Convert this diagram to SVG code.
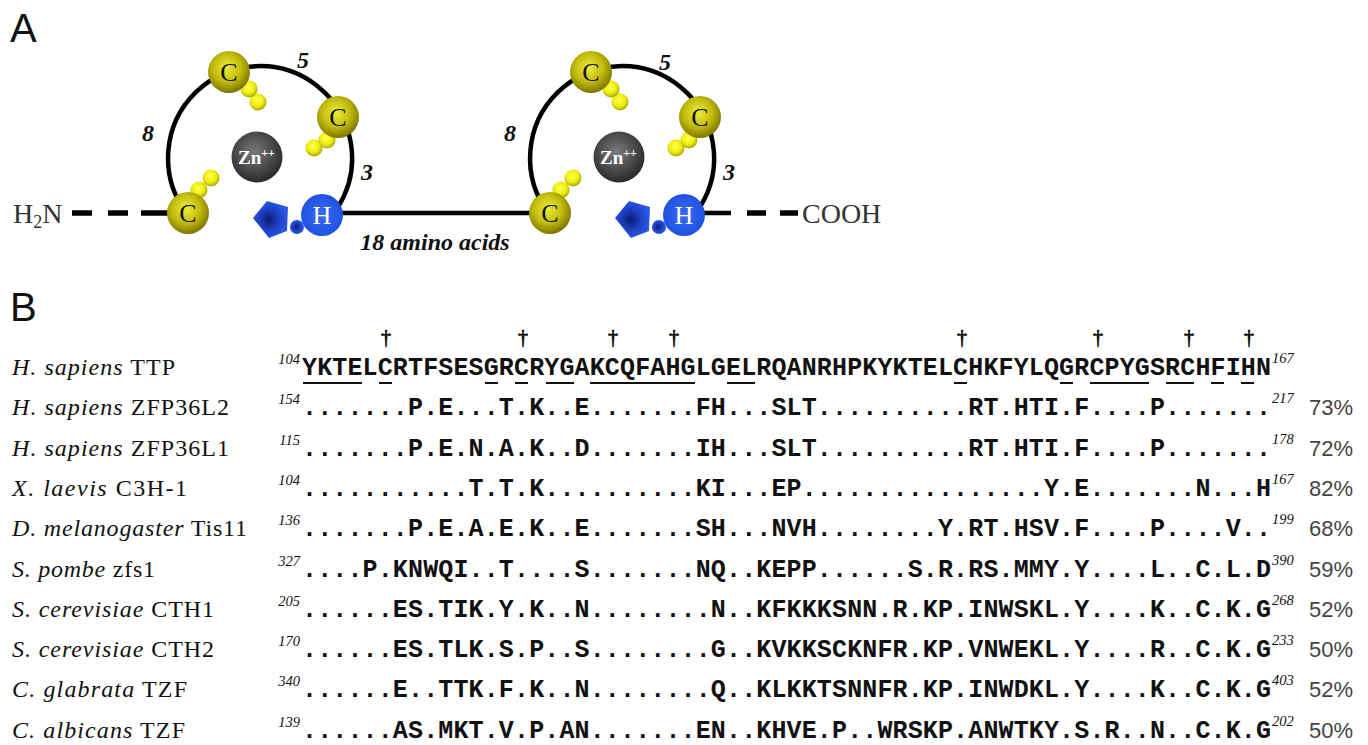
<svg xmlns="http://www.w3.org/2000/svg" width="1368" height="745" viewBox="0 0 1368 745">
  <defs>
    <radialGradient id="gCys" cx="45%" cy="40%" r="60%">
      <stop offset="0" stop-color="#ecec3a"/>
      <stop offset="0.55" stop-color="#c4bd10"/>
      <stop offset="1" stop-color="#7d7600"/>
    </radialGradient>
    <radialGradient id="gSul" cx="45%" cy="40%" r="60%">
      <stop offset="0" stop-color="#ffff55"/>
      <stop offset="0.6" stop-color="#eeee10"/>
      <stop offset="1" stop-color="#a8a400"/>
    </radialGradient>
    <radialGradient id="gZn" cx="45%" cy="40%" r="60%">
      <stop offset="0" stop-color="#7a7a7a"/>
      <stop offset="0.6" stop-color="#4a4a4a"/>
      <stop offset="1" stop-color="#2a2a2a"/>
    </radialGradient>
    <radialGradient id="gHis" cx="50%" cy="50%" r="55%">
      <stop offset="0" stop-color="#3a6af2"/>
      <stop offset="1" stop-color="#1d4fe0"/>
    </radialGradient>
    <radialGradient id="gRing" cx="45%" cy="50%" r="55%">
      <stop offset="0" stop-color="#0c1c70"/>
      <stop offset="0.5" stop-color="#1d3fc0"/>
      <stop offset="1" stop-color="#2b5ae8"/>
    </radialGradient>
    <style>
      .bb { stroke:#000; stroke-width:4.5; fill:none; }
      .dash { stroke:#000; stroke-width:5.5; }
      .cys { fill:url(#gCys); }
      .sul { fill:url(#gSul); }
      .cl { font-family:"Liberation Serif",serif; font-size:26px; text-anchor:middle; fill:#111; }
      .hl { font-family:"Liberation Serif",serif; font-size:26px; text-anchor:middle; fill:#fff; }
      .zn { font-family:"Liberation Serif",serif; font-weight:bold; font-size:19px; fill:#fff; }
      .cnt { font-family:"Liberation Serif",serif; font-weight:bold; font-style:italic; font-size:24px; text-anchor:middle; fill:#111; }
      .term { font-family:"Liberation Serif",serif; font-size:28px; fill:#333; }
      .panel { font-family:"Liberation Sans",sans-serif; font-size:40px; fill:#111; }
      .lab { font-family:"Liberation Serif",serif; font-size:24px; fill:#111; }
      .it { font-style:italic; }
      .seq { font-family:"Liberation Mono",monospace; font-weight:bold; font-size:25px; letter-spacing:0.14px; fill:#111; }
      .num { font-family:"Liberation Serif",serif; font-style:italic; font-size:14.5px; fill:#111; }
      .numL { text-anchor:end; }
      .pct { font-family:"Liberation Sans",sans-serif; font-size:22px; fill:#444; }
      .dag { font-family:"Liberation Serif",serif; font-size:20px; text-anchor:middle; fill:#000; stroke:#000; stroke-width:0.6px; }
      .ul { stroke:#111; stroke-width:2; }
    </style>
  </defs>

  <rect width="1368" height="745" fill="#fff"/>

  <!-- Panel A: tandem CCCH zinc fingers -->
  <text class="panel" x="10" y="42">A</text>

  <g id="connectors">
    <!-- N-terminal dashed tail -->
    <line class="dash" x1="72" y1="213" x2="92" y2="213"/>
    <line class="dash" x1="108" y1="213" x2="128" y2="213"/>
    <line class="dash" x1="141" y1="213" x2="190" y2="213"/>
    <!-- finger 1 loop -->
    <path class="bb" d="M 187 214 A 92 92 0 1 1 338 207"/>
    <!-- 18-residue linker -->
    <line class="bb" x1="322" y1="213" x2="550" y2="213"/>
    <!-- finger 2 loop -->
    <path class="bb" d="M 549 214 A 92 92 0 1 1 700 207"/>
    <!-- C-terminal tail -->
    <line class="bb" x1="684" y1="213" x2="731" y2="213"/>
    <line class="dash" x1="747" y1="213" x2="766" y2="213"/>
    <line class="dash" x1="780" y1="213" x2="798" y2="213"/>
  </g>

  <g id="terminus-n"><text class="term" x="13" y="223">H<tspan font-size="18" dy="5">2</tspan><tspan dy="-5">N</tspan></text></g>
  <g id="terminus-c"><text class="term" x="802" y="223">COOH</text></g>
  <g id="linker-label"><text class="cnt" x="435" y="250" font-size="25">18 amino acids</text></g>

  <!-- finger 1 -->
  <g id="finger1">
    <g id="f1-spacing">
      <text class="cnt" x="148" y="141">8</text>
      <text class="cnt" x="303" y="68">5</text>
      <text class="cnt" x="367" y="180">3</text>
    </g>
    <g id="f1-zn">
      <circle cx="257" cy="157" r="25.5" fill="url(#gZn)"/>
      <text class="zn" x="238" y="164">Zn<tspan font-size="12" dy="-7">++</tspan></text>
    </g>
    <g id="f1-cys1">
      <circle class="sul" cx="211" cy="178" r="8.5"/>
      <circle class="sul" cx="199" cy="190" r="8.5"/>
      <circle class="cys" cx="188" cy="213" r="21"/>
      <text class="cl" x="188" y="222">C</text>
    </g>
    <g id="f1-cys2">
      <circle class="sul" cx="258" cy="102" r="8.5"/>
      <circle class="sul" cx="249" cy="89" r="8.5"/>
      <circle class="cys" cx="229" cy="72" r="21"/>
      <text class="cl" x="229" y="81">C</text>
    </g>
    <g id="f1-cys3">
      <circle class="sul" cx="314" cy="148" r="8.5"/>
      <circle class="sul" cx="327" cy="140" r="8.5"/>
      <circle class="cys" cx="338" cy="117" r="21"/>
      <text class="cl" x="338" y="126">C</text>
    </g>
    <g id="f1-his">
      <polygon points="253,218 267,201 288,207 287,231 269,238" fill="url(#gRing)"/>
      <circle cx="297" cy="227" r="7" fill="url(#gRing)"/>
      <circle cx="322" cy="215" r="21" fill="url(#gHis)"/>
      <text class="hl" x="322" y="224">H</text>
    </g>
  </g>

  <!-- finger 2 -->
  <g id="finger2" transform="translate(362,0)">
    <g id="f2-spacing">
      <text class="cnt" x="148" y="141">8</text>
      <text class="cnt" x="303" y="70">5</text>
      <text class="cnt" x="367" y="180">3</text>
    </g>
    <g id="f2-zn">
      <circle cx="257" cy="157" r="25.5" fill="url(#gZn)"/>
      <text class="zn" x="238" y="164">Zn<tspan font-size="12" dy="-7">++</tspan></text>
    </g>
    <g id="f2-cys1">
      <circle class="sul" cx="211" cy="178" r="8.5"/>
      <circle class="sul" cx="199" cy="190" r="8.5"/>
      <circle class="cys" cx="188" cy="213" r="21"/>
      <text class="cl" x="188" y="222">C</text>
    </g>
    <g id="f2-cys2">
      <circle class="sul" cx="258" cy="102" r="8.5"/>
      <circle class="sul" cx="249" cy="89" r="8.5"/>
      <circle class="cys" cx="229" cy="72" r="21"/>
      <text class="cl" x="229" y="81">C</text>
    </g>
    <g id="f2-cys3">
      <circle class="sul" cx="314" cy="148" r="8.5"/>
      <circle class="sul" cx="327" cy="140" r="8.5"/>
      <circle class="cys" cx="338" cy="117" r="21"/>
      <text class="cl" x="338" y="126">C</text>
    </g>
    <g id="f2-his">
      <polygon points="253,218 267,201 288,207 287,231 269,238" fill="url(#gRing)"/>
      <circle cx="297" cy="227" r="7" fill="url(#gRing)"/>
      <circle cx="322" cy="215" r="21" fill="url(#gHis)"/>
      <text class="hl" x="322" y="224">H</text>
    </g>
  </g>

  <!-- Panel B: alignment of TZF domains -->
  <text class="panel" x="10" y="321">B</text>

  <!-- zinc-coordinating residues -->
  <g id="daggers" transform="matrix(1 0 0 1.0002 0 0)">
    <text class="dag" x="386" y="344">†</text>
    <text class="dag" x="523" y="344">†</text>
    <text class="dag" x="613" y="344">†</text>
    <text class="dag" x="674" y="344">†</text>
    <text class="dag" x="962" y="344">†</text>
    <text class="dag" x="1098" y="344">†</text>
    <text class="dag" x="1189" y="344">†</text>
    <text class="dag" x="1249" y="344">†</text>
  </g>

  <g id="labels">
    <text class="lab" x="12" y="375" textLength="163" lengthAdjust="spacing"><tspan class="it">H. sapiens</tspan> TTP</text>
    <text class="lab" x="12" y="415.3" textLength="217" lengthAdjust="spacing"><tspan class="it">H. sapiens</tspan> ZFP36L2</text>
    <text class="lab" x="12" y="455.6" textLength="217" lengthAdjust="spacing"><tspan class="it">H. sapiens</tspan> ZFP36L1</text>
    <text class="lab" x="12" y="495.9" textLength="175" lengthAdjust="spacing"><tspan class="it">X. laevis</tspan> C3H-1</text>
    <text class="lab" x="12" y="536.2" textLength="235" lengthAdjust="spacing"><tspan class="it">D. melanogaster</tspan> Tis11</text>
    <text class="lab" x="12" y="576.5" textLength="143" lengthAdjust="spacing"><tspan class="it">S. pombe</tspan> zfs1</text>
    <text class="lab" x="12" y="616.8" textLength="202" lengthAdjust="spacing"><tspan class="it">S. cerevisiae</tspan> CTH1</text>
    <text class="lab" x="12" y="657.1" textLength="202" lengthAdjust="spacing"><tspan class="it">S. cerevisiae</tspan> CTH2</text>
    <text class="lab" x="12" y="697.4" textLength="175" lengthAdjust="spacing"><tspan class="it">C. glabrata</tspan> TZF</text>
    <text class="lab" x="12" y="737.7" textLength="173" lengthAdjust="spacing"><tspan class="it">C. albicans</tspan> TZF</text>
  </g>

  <g id="sequences">
    <text class="seq" x="302" y="375">YKTELCRTFSESGRCRYGAKCQFAHGLGELRQANRHPKYKTELCHKFYLQGRCPYGSRCHFIHN</text>
    <text class="seq" x="302" y="415.3">.......P.E...T.K..E.......FH...SLT..........RT.HTI.F....P.......</text>
    <text class="seq" x="302" y="455.6">.......P.E.N.A.K..D.......IH...SLT..........RT.HTI.F....P.......</text>
    <text class="seq" x="302" y="495.9">...........T.T.K..........KI...EP................Y.E.......N...H</text>
    <text class="seq" x="302" y="536.2">.......P.E.A.E.K..E.......SH...NVH........Y.RT.HSV.F....P....V..</text>
    <text class="seq" x="302" y="576.5">....P.KNWQI..T....S.......NQ..KEPP......S.R.RS.MMY.Y....L..C.L.D</text>
    <text class="seq" x="302" y="616.8">......ES.TIK.Y.K..N........N..KFKKKSNN.R.KP.INWSKL.Y....K..C.K.G</text>
    <text class="seq" x="302" y="657.1">......ES.TLK.S.P..S........G..KVKKSCKNFR.KP.VNWEKL.Y....R..C.K.G</text>
    <text class="seq" x="302" y="697.4">......E..TTK.F.K..N........Q..KLKKTSNNFR.KP.INWDKL.Y....K..C.K.G</text>
    <text class="seq" x="302" y="737.7">......AS.MKT.V.P.AN.......EN..KHVE.P..WRSKP.ANWTKY.S.R..N..C.K.G</text>
  </g>

  <!-- underlined residues of the TTP reference sequence -->
  <g id="underlines">
    <line class="ul" x1="303" y1="383" x2="362" y2="383"/>
    <line class="ul" x1="379" y1="383" x2="392" y2="383"/>
    <line class="ul" x1="485" y1="383" x2="498" y2="383"/>
    <line class="ul" x1="515" y1="383" x2="528" y2="383"/>
    <line class="ul" x1="546" y1="383" x2="574" y2="383"/>
    <line class="ul" x1="590" y1="383" x2="695" y2="383"/>
    <line class="ul" x1="727" y1="383" x2="755" y2="383"/>
    <line class="ul" x1="954" y1="383" x2="967" y2="383"/>
    <line class="ul" x1="1060" y1="383" x2="1073" y2="383"/>
    <line class="ul" x1="1090" y1="383" x2="1149" y2="383"/>
    <line class="ul" x1="1166" y1="383" x2="1194" y2="383"/>
    <line class="ul" x1="1211" y1="383" x2="1224" y2="383"/>
    <line class="ul" x1="1241" y1="383" x2="1254" y2="383"/>
  </g>

  <g id="start-positions">
    <text class="num numL" x="300" y="364">104</text>
    <text class="num numL" x="300" y="404.3">154</text>
    <text class="num numL" x="300" y="444.6">115</text>
    <text class="num numL" x="300" y="484.9">104</text>
    <text class="num numL" x="300" y="525.2">136</text>
    <text class="num numL" x="300" y="565.5">327</text>
    <text class="num numL" x="300" y="605.8">205</text>
    <text class="num numL" x="300" y="646.1">170</text>
    <text class="num numL" x="300" y="686.4">340</text>
    <text class="num numL" x="300" y="726.7">139</text>
  </g>

  <g id="end-positions">
    <text class="num" x="1272" y="363">167</text>
    <text class="num" x="1272" y="403.3">217</text>
    <text class="num" x="1272" y="443.6">178</text>
    <text class="num" x="1272" y="483.9">167</text>
    <text class="num" x="1272" y="524.2">199</text>
    <text class="num" x="1272" y="564.5">390</text>
    <text class="num" x="1272" y="604.8">268</text>
    <text class="num" x="1272" y="645.1">233</text>
    <text class="num" x="1272" y="685.4">403</text>
    <text class="num" x="1272" y="725.7">202</text>
  </g>

  <g id="identity">
    <text class="pct" x="1309" y="415.3">73%</text>
    <text class="pct" x="1309" y="455.6">72%</text>
    <text class="pct" x="1309" y="495.9">82%</text>
    <text class="pct" x="1309" y="536.2">68%</text>
    <text class="pct" x="1309" y="576.5">59%</text>
    <text class="pct" x="1309" y="616.8">52%</text>
    <text class="pct" x="1309" y="657.1">50%</text>
    <text class="pct" x="1309" y="697.4">52%</text>
    <text class="pct" x="1309" y="737.7">50%</text>
  </g>
</svg>
